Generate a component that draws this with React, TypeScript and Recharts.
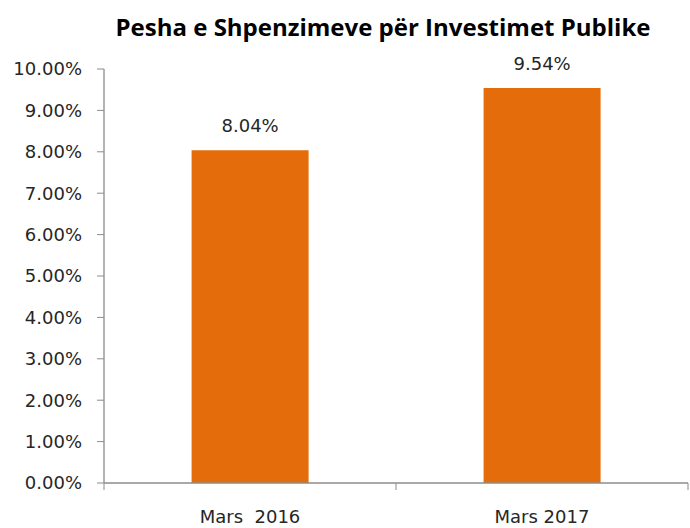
import { BarChart, Bar, XAxis, YAxis, LabelList } from "recharts"

const categories = ["Mars\u00a0 2016", "Mars 2017"]
const shares = [0.0804, 0.0954]
const yTicks = [0, 0.01, 0.02, 0.03, 0.04, 0.05, 0.06, 0.07, 0.08, 0.09, 0.1]

const TITLE = "Pesha e Shpenzimeve për Investimet Publike"
const BAR_COLOR = "#E46C0A"
const AXIS_COLOR = "#8C8C8C"
const TEXT_COLOR = "#262626"
const FONT = "'DejaVu Sans', sans-serif"
const X_TICK_MARGIN = 27
const X_TICK_LEN = 7

const data = categories.map((c, i) => ({ label: c, value: shares[i] }))

const pct = (v: number) => (v * 100).toFixed(2) + "%"

// category label plus tick marks between categories (Excel style)
const CatTick = (props: any) => {
  const { x, y, payload, index, visibleTicksCount } = props
  const half = payload?.offset ?? 0
  const axisY = y - X_TICK_MARGIN
  const last = index === visibleTicksCount - 1
  return (
    <g>
      <line x1={x - half} x2={x - half} y1={axisY} y2={axisY + X_TICK_LEN} stroke={AXIS_COLOR} />
      {last && <line x1={x + half} x2={x + half} y1={axisY} y2={axisY + X_TICK_LEN} stroke={AXIS_COLOR} />}
      <text x={x} y={y} dy="0.71em" textAnchor="middle" fill={TEXT_COLOR} fontSize={18} fontFamily={FONT}>
        {payload.value}
      </text>
    </g>
  )
}

export default function App() {
  return (
    <div style={{ position: "absolute", left: 0, top: 0, width: 690, height: 528, background: "#fff" }}>
      <svg width={690} height={50} style={{ position: "absolute", left: 0, top: 0 }}>
        <text x={383} y={36} textAnchor="middle" fontFamily="'Open Sans', sans-serif" fontWeight={700} fontSize={24} fill="#000">
          {TITLE}
        </text>
      </svg>
      <BarChart
        width={690}
        height={528}
        data={data}
        margin={{ top: 69, right: 2, bottom: 0, left: 0 }}
        barCategoryGap="30%"
        style={{ fontFamily: FONT }}
      >
        <XAxis
          dataKey="label"
          height={45}
          tickSize={0}
          tickMargin={X_TICK_MARGIN}
          tickLine={false}
          axisLine={{ stroke: AXIS_COLOR, strokeWidth: 1.3 }}
          tick={<CatTick />}
        />
        <YAxis
          width={104}
          domain={[0, 0.1]}
          ticks={yTicks}
          interval={0}
          tickFormatter={pct}
          tickSize={7}
          tickMargin={15}
          axisLine={{ stroke: AXIS_COLOR, strokeWidth: 1.3 }}
          tickLine={{ stroke: AXIS_COLOR }}
          tick={{ fill: TEXT_COLOR, fontSize: 18, fontFamily: FONT }}
        />
        <Bar dataKey="value" fill={BAR_COLOR} isAnimationActive={false}>
          <LabelList
            dataKey="value"
            position="top"
            offset={18}
            formatter={(v: any) => pct(Number(v))}
            style={{ fill: TEXT_COLOR, fontSize: 18, fontFamily: FONT }}
          />
        </Bar>
      </BarChart>
    </div>
  )
}
